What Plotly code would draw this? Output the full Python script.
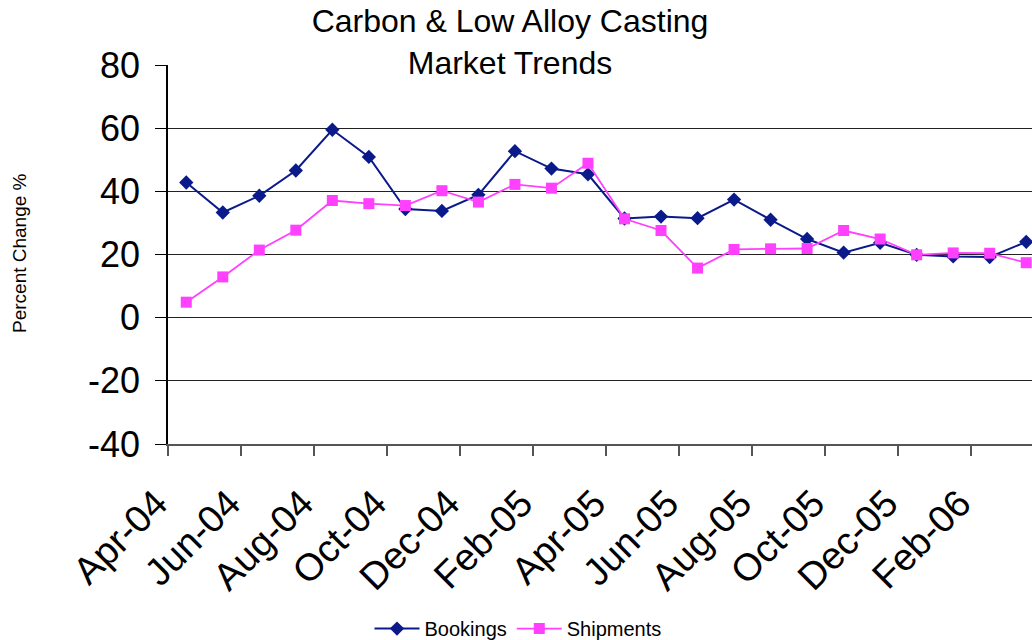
import plotly.graph_objects as go

months = ["Apr-04", "May-04", "Jun-04", "Jul-04", "Aug-04", "Sep-04", "Oct-04", "Nov-04",
          "Dec-04", "Jan-05", "Feb-05", "Mar-05", "Apr-05", "May-05", "Jun-05", "Jul-05",
          "Aug-05", "Sep-05", "Oct-05", "Nov-05", "Dec-05", "Jan-06", "Feb-06", "Mar-06"]
bookings = [42.8, 33.3, 38.6, 46.6, 59.5, 50.9, 34.4, 33.8, 38.9, 52.7, 47.2, 45.4,
            31.4, 32.0, 31.5, 37.4, 31.0, 24.9, 20.6, 23.7, 19.9, 19.4, 19.2, 24.0]
shipments = [4.9, 12.9, 21.4, 27.7, 37.1, 36.1, 35.5, 40.2, 36.6, 42.2, 41.0, 48.9,
             31.3, 27.6, 15.7, 21.6, 21.8, 21.9, 27.6, 24.9, 19.9, 20.5, 20.4, 17.4]
y_ticks = [-40, -20, 0, 20, 40, 60, 80]
y_tick_text = ["-40", "-20", "0", "20", "40", "60", "80"]

idx = list(range(len(months)))
label_idx = idx[::2]
label_text = [months[i] for i in label_idx]

FONT = "Liberation Sans, Arial, sans-serif"

fig = go.Figure()
fig.add_trace(go.Scatter(
    x=idx, y=bookings, name="Bookings", mode="lines+markers",
    line=dict(color="#0A1A8A", width=2),
    marker=dict(symbol="diamond", size=11, color="#0A1A8A"),
    cliponaxis=False,
))
fig.add_trace(go.Scatter(
    x=idx, y=shipments, name="Shipments", mode="lines+markers",
    line=dict(color="#FF40FF", width=1.8),
    marker=dict(symbol="square", size=11, color="#FF40FF"),
    cliponaxis=False,
))

fig.update_layout(
    width=1032, height=640,
    margin=dict(l=168, r=0, t=65, b=196, autoexpand=False),
    paper_bgcolor="white", plot_bgcolor="white",
    font=dict(family=FONT, color="black"),
    title=dict(
        text="Carbon & Low Alloy Casting<br>Market Trends",
        x=510 / 1032, xanchor="center", xref="container",
        y=1 - 32 / 640, yanchor="middle", yref="container",
        font=dict(size=32, family=FONT, color="black"),
    ),
    showlegend=True,
    legend=dict(
        orientation="h", x=(518 - 168) / 864, xanchor="center",
        y=-0.487, yanchor="middle",
        font=dict(size=20, family=FONT, color="black"),
        itemwidth=45, bgcolor="rgba(0,0,0,0)",
    ),
)

fig.update_xaxes(
    range=[-0.5, -0.5 + 864 / 36.52],
    tickmode="array", tickvals=label_idx, ticktext=label_text,
    tickangle=-45, ticks="",
    tickfont=dict(size=38, family=FONT, color="black"),
    ticklabelstandoff=20, ticklabelshift=-30,
    automargin=False,
    showgrid=False, zeroline=False,
    showline=True, linecolor="#555555", linewidth=1.5,
    minor=dict(tick0=-0.5, dtick=2, ticks="outside", ticklen=10,
               tickcolor="#555555", tickwidth=1.5, showgrid=False),
)
fig.update_yaxes(
    range=[-40, 80], tickmode="array", tickvals=y_ticks, ticktext=y_tick_text,
    ticks="outside", ticklen=11, tickcolor="black", tickwidth=1,
    tickfont=dict(size=36, family=FONT, color="black"),
    showgrid=True, gridcolor="#222222", gridwidth=1,
    zeroline=False, automargin=False,
    showline=True, linecolor="black", linewidth=1.5,
    ticklabelstandoff=8,
)

fig.add_annotation(
    text="Percent Change %", xref="paper", yref="paper",
    x=(20 - 168) / 864, y=(443.7 - 253) / (443.7 - 65.3),
    xanchor="center", yanchor="middle", textangle=-90, showarrow=False,
    font=dict(size=19, family=FONT, color="black"),
)

fig.write_html("out.html")
